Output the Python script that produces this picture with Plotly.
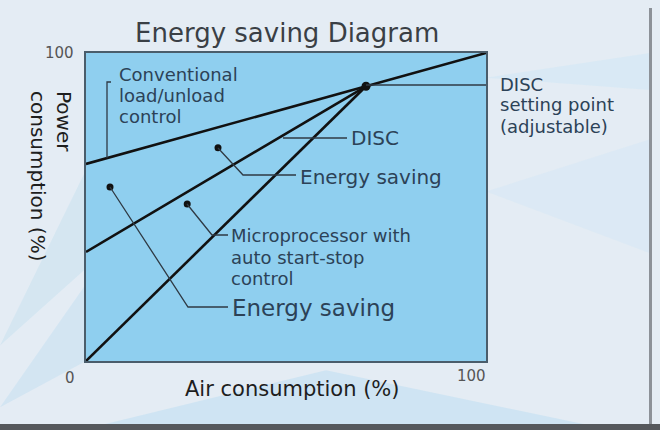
import plotly.graph_objects as go

# ---- data (percent values) ----
conv_air = [0, 100]
conv_power = [64, 100]
disc_air = [0, 70]
disc_power = [35.4, 89.2]
micro_air = [0, 70]
micro_power = [0, 89.2]
setting_air = [70]
setting_power = [89.2]
saving_dots_air = [33, 6, 25.3]
saving_dots_power = [69.2, 56.5, 51.0]

title_text = "Energy saving Diagram"
x_title = "Air consumption (%)"
y_title = "Power<br>consumption (%)"

FONT = "DejaVu Sans"
INK = "#2C4257"

L, R, T, B = 86, 486, 53, 361
W, H = 660, 430


def px(x):
    return (x - L) / (R - L)


def py(y):
    return (B - y) / (B - T)


def dx(x):
    return (x - L) / (R - L) * 100


def dy(y):
    return (B - y) / (B - T) * 100


fig = go.Figure()

line_style = dict(color="#111111", width=2.6)
fig.add_trace(go.Scatter(x=conv_air, y=conv_power, mode="lines", line=line_style, cliponaxis=False))
fig.add_trace(go.Scatter(x=disc_air, y=disc_power, mode="lines", line=line_style, cliponaxis=False))
fig.add_trace(go.Scatter(x=micro_air, y=micro_power, mode="lines", line=line_style, cliponaxis=False))
fig.add_trace(go.Scatter(x=saving_dots_air, y=saving_dots_power, mode="markers",
                         marker=dict(color="#111111", size=7), cliponaxis=False))
fig.add_trace(go.Scatter(x=setting_air, y=setting_power, mode="markers",
                         marker=dict(color="#111111", size=9), cliponaxis=False))

shapes = []
# decorative background streaks (faint)
for path, col in [
    ("M -0.215,0.05 L 0.0,0.62 L 0.0,0.30 Z", "rgba(160,210,230,0.22)"),
    ("M -0.215,-0.15 L 0.0,0.25 L 0.0,0.0 Z", "rgba(150,205,235,0.22)"),
    ("M 0.0,-0.22 L 0.6,-0.03 L 1.3,-0.22 Z", "rgba(170,215,240,0.35)"),
    ("M 1.0,0.55 L 1.41,0.72 L 1.41,0.35 Z", "rgba(205,230,246,0.35)"),
    ("M 1.0,0.92 L 1.41,1.0 L 1.41,0.88 Z", "rgba(205,230,246,0.45)"),
]:
    shapes.append(dict(type="path", path=path, xref="paper", yref="paper",
                       fillcolor=col, line=dict(width=0), layer="below"))
# frame of the photo: right grey edge and bottom dark band
shapes.append(dict(type="rect", xref="paper", yref="paper", x0=px(649), x1=px(652),
                   y0=py(425), y1=py(8), fillcolor="#8C9198", line=dict(width=0)))
shapes.append(dict(type="rect", xref="paper", yref="paper", x0=px(0), x1=px(660),
                   y0=py(430), y1=py(424), fillcolor="#55585C", line=dict(width=0)))

lead = dict(color="#2F3A44", width=1.3)


def seg(pts):
    d = "M " + " L ".join(f"{dx(a):.3f},{dy(b):.3f}" for a, b in pts)
    shapes.append(dict(type="path", path=d, xref="x", yref="y", line=lead))


seg([(218, 148), (243, 175), (296, 175)])            # upper energy saving
seg([(110, 187), (188, 307), (228, 307)])            # lower energy saving
seg([(187, 204), (212, 235), (228, 235)])            # microprocessor
seg([(283, 138), (347, 138)])                        # DISC
seg([(366, 85), (495, 85)])                          # DISC setting point
seg([(111, 82), (107, 82), (107, 158)])              # conventional bracket

annotations = []


def ann(text, x, y, size, color=INK, xanchor="left", **kw):
    annotations.append(dict(text=text, x=px(x), y=py(y), xref="paper", yref="paper",
                            xanchor=xanchor, yanchor="middle", showarrow=False,
                            font=dict(family=FONT, size=size, color=color), **kw))


ann(title_text, 287, 33, 26, color="#3A3F45", xanchor="center")
ann("Conventional", 117, 74, 18)
ann("load/unload", 117, 95, 18)
ann("control", 117, 116, 18)
ann("DISC", 498, 84, 18)
ann("setting point", 498, 105, 18)
ann("(adjustable)", 498, 126, 18)
ann("DISC", 349, 138, 20)
ann("Energy saving", 298, 177, 20)
ann("Microprocessor with", 229, 236, 18)
ann("auto start-stop", 229, 257, 18)
ann("control", 229, 278, 18)
ann("Energy saving", 230, 308, 23)
ann("100", 59, 53, 15, color="#555555", xanchor="center")
ann("0", 70, 378, 15, color="#555555", xanchor="center")
ann("100", 471, 376, 15, color="#555555", xanchor="center")
ann(x_title, 292, 389, 21, color="#1E1E1E", xanchor="center")
annotations.append(dict(text=y_title, x=px(51), y=py(176), xref="paper", yref="paper",
                        xanchor="center", yanchor="middle", showarrow=False, textangle=90,
                        align="left", font=dict(family=FONT, size=20, color="#1E1E1E")))

fig.update_layout(
    width=W, height=H, autosize=False,
    margin=dict(l=L, r=W - R, t=T, b=H - B, pad=0),
    paper_bgcolor="#E4ECF4",
    plot_bgcolor="#8FCFEF",
    showlegend=False,
    shapes=shapes,
    annotations=annotations,
    xaxis=dict(range=[0, 100], showgrid=False, zeroline=False, showticklabels=False,
               ticks="", showline=True, mirror=True, linecolor="#4A5D6B", linewidth=2),
    yaxis=dict(range=[0, 100], showgrid=False, zeroline=False, showticklabels=False,
               ticks="", showline=True, mirror=True, linecolor="#4A5D6B", linewidth=2),
)

fig.write_html("out.html",
               config={"displayModeBar": False},
               post_script="document.body.style.margin='0';document.body.style.padding='0';")
